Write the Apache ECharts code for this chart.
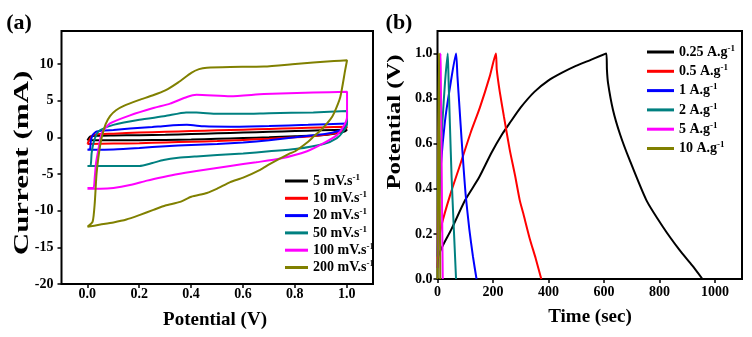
<!DOCTYPE html>
<html><head><meta charset="utf-8">
<script src="https://cdn.jsdelivr.net/npm/echarts@6/dist/echarts.min.js"></script>
<style>html,body{margin:0;padding:0;background:#fff}#c{width:752px;height:337px}</style>
</head><body><div id="c"></div>
<script>
// ---- Panel (a): CV curves, [potential V, current mA]
const cvNames = ['5 mV.s^-1', '10 mV.s^-1', '20 mV.s^-1', '50 mV.s^-1', '100 mV.s^-1', '200 mV.s^-1'];
const cvColors = ['#000000', '#ff0000', '#0000ff', '#008080', '#ff00ff', '#808000'];
const cv5 = [[0,-0.4],[0.01,0.1],[0.03,0.2],[0.1,0.25],[0.2,0.3],[0.3,0.35],[0.4,0.45],[0.5,0.55],[0.6,0.65],[0.7,0.75],[0.8,0.85],[0.9,0.95],[1.0,1.05],
  [0.99,0.8],[0.95,0.5],[0.9,0.3],[0.8,0.15],[0.7,0.0],[0.6,-0.1],[0.5,-0.2],[0.4,-0.3],[0.3,-0.35],[0.2,-0.4],[0.1,-0.4],[0,-0.4]];
const cv10 = [[0,-0.9],[0.01,-0.2],[0.02,0.3],[0.05,0.45],[0.1,0.5],[0.2,0.65],[0.3,0.75],[0.4,0.85],[0.5,0.95],[0.6,1.05],[0.7,1.15],[0.8,1.25],[0.9,1.35],[1.0,1.45],
  [0.995,1.2],[0.98,0.9],[0.95,0.55],[0.9,0.3],[0.8,0.0],[0.7,-0.2],[0.6,-0.35],[0.5,-0.5],[0.4,-0.6],[0.3,-0.7],[0.2,-0.8],[0.1,-0.85],[0,-0.9]];
const cv20 = [[0,-1.7],[0.01,-1.6],[0.013,-0.5],[0.02,0.3],[0.036,0.8],[0.1,1.0],[0.164,1.2],[0.25,1.4],[0.3,1.55],[0.383,1.7],[0.45,1.5],[0.55,1.45],[0.7,1.55],[0.85,1.7],[1.0,1.9],
  [0.995,1.5],[0.987,1.2],[0.96,0.8],[0.92,0.5],[0.871,0.3],[0.8,0.0],[0.7,-0.4],[0.6,-0.7],[0.5,-0.9],[0.4,-1.05],[0.3,-1.2],[0.2,-1.45],[0.1,-1.65],[0,-1.7]];
const cv50 = [[0,-3.9],[0.012,-3.85],[0.016,-2.2],[0.023,-0.8],[0.035,0.4],[0.049,1.0],[0.1,1.7],[0.2,2.4],[0.3,2.9],[0.38,3.4],[0.42,3.4],[0.5,3.2],[0.6,3.2],[0.7,3.3],[0.87,3.4],[1.0,3.6],
  [1.0,1.9],[0.987,0.9],[0.961,-0.1],[0.91,-0.9],[0.8,-1.6],[0.7,-1.9],[0.6,-2.2],[0.5,-2.4],[0.42,-2.6],[0.35,-2.8],[0.293,-3.1],[0.25,-3.5],[0.2,-3.9],[0.1,-3.9],[0,-3.9]];
const cv100 = [[0,-6.9],[0.023,-6.9],[0.028,-5.5],[0.033,-3.5],[0.042,-1.7],[0.055,0.6],[0.087,1.9],[0.164,3.0],[0.254,4.0],[0.318,4.6],[0.383,5.5],[0.42,5.8],[0.55,5.6],[0.68,5.9],[0.87,6.1],[1.0,6.2],
  [1.0,2.8],[0.987,1.5],[0.961,0.3],[0.91,-0.8],[0.846,-1.9],[0.743,-2.9],[0.65,-3.4],[0.55,-3.9],[0.42,-4.6],[0.35,-5.0],[0.293,-5.4],[0.229,-5.9],[0.164,-6.5],[0.1,-6.9],[0.05,-7.0],[0,-7.0]];
const cv200 = [[0,-12.2],[0.02,-11.5],[0.028,-9],[0.035,-5],[0.045,-2],[0.055,0],[0.07,1.8],[0.087,2.9],[0.11,3.7],[0.14,4.3],[0.2,5.1],[0.25,5.7],[0.3,6.4],[0.35,7.5],[0.4,8.8],[0.43,9.3],[0.46,9.5],[0.55,9.6],[0.68,9.65],[0.8,10.0],[0.87,10.2],[0.95,10.4],[1.0,10.5],
  [0.993,9.2],[0.974,5.5],[0.95,3.3],[0.935,2.4],[0.9,1.0],[0.871,0.1],[0.85,-0.6],[0.8,-1.9],[0.78,-2.2],[0.7,-3.7],[0.667,-4.4],[0.6,-5.5],[0.55,-6.1],[0.5,-7.0],[0.46,-7.6],[0.4,-8.1],[0.357,-8.8],[0.3,-9.3],[0.254,-9.9],[0.2,-10.6],[0.15,-11.2],[0.1,-11.6],[0.05,-11.9],[0,-12.2]];
const cvData = [cv5, cv10, cv20, cv50, cv100, cv200];
const cvXTicks = [0, 1, 0.2];     // min, max, step for tick labels
const cvYTicks = [-20, 10, 5];

// ---- Panel (b): GCD curves, [time s, potential V]
const gcdNames = ['0.25 A.g^-1', '0.5 A.g^-1', '1 A.g^-1', '2 A.g^-1', '5 A.g^-1', '10 A.g^-1'];
const gcdColors = ['#000000', '#ff0000', '#0000ff', '#008080', '#ff00ff', '#808000'];
const g025 = [[0,0.05],[3,0.1],[20,0.15],[50,0.22],[100,0.35],[150,0.45],[195,0.56],[235,0.645],[260,0.69],[300,0.76],[350,0.83],[400,0.88],[450,0.915],[500,0.945],[550,0.97],[610,1.0],
  [612,0.93],[616,0.87],[634,0.75],[660,0.64],[694,0.528],[754,0.351],[814,0.232],[874,0.129],[920,0.06],[957,0]];
const g05 = [[0,0.09],[3,0.15],[15,0.24],[45,0.37],[80,0.5],[120,0.65],[153,0.76],[189,0.9],[211,1.0],
  [214,0.93],[225,0.83],[240,0.72],[261,0.573],[280,0.46],[297,0.35],[310,0.29],[333,0.18],[355,0.09],[375,0]];
const g1 = [[0,0.1],[4,0.3],[12,0.5],[27,0.7],[45,0.85],[67,1.0],[72,0.9],[80,0.75],[87,0.62],[95,0.48],[102,0.37],[115,0.22],[128,0.1],[141,0]];
const g2 = [[0,0.1],[4,0.3],[10,0.5],[18,0.7],[27,0.87],[37,1.0],[40,0.88],[45,0.68],[51,0.45],[58,0.25],[67,0]];
const g5 = [[0,0.05],[2,0.4],[6,0.8],[11,1.0],[12,0.9],[15,0.5],[19,0]];
const g10 = [[0,0],[2,0.5],[5,1.0],[6,0.85],[8,0.4],[10,0]];
const gcdData = [g025, g05, g1, g2, g5, g10];
const gcdXTicks = [0, 1000, 200];
const gcdYTicks = [0, 1, 0.2];

const FF = '"Liberation Serif", "Times New Roman", serif';
const lab = (m, fmt) => ({show: true, margin: m, fontFamily: FF, fontWeight: 'bold', fontSize: 14, color: '#000', formatter: fmt});
const tick = {show: true, inside: false, length: 4, lineStyle: {color: '#000', width: 1.5}};
const hidden = (gi, min, max) => ({gridIndex: gi, type: 'value', min, max, show: false});
const richFmt = n => { const p = n.split('^'); return '{b|' + p[0] + '}{s|' + p[1] + '}'; };
const rich = {
  b: {fontFamily: FF, fontWeight: 'bold', fontSize: 14, lineHeight: 16, color: '#000'},
  s: {fontFamily: FF, fontWeight: 'bold', fontSize: 9, lineHeight: 10, verticalAlign: 'top', color: '#000'}
};

const series = [];
cvData.forEach((d, i) => series.push({name: cvNames[i], type: 'line', xAxisIndex: 0, yAxisIndex: 0, data: d, showSymbol: false, smooth: 0.2, color: cvColors[i], lineStyle: {width: 2}}));
gcdData.forEach((d, i) => series.push({name: gcdNames[i], type: 'line', xAxisIndex: 3, yAxisIndex: 3, data: d, showSymbol: false, smooth: 0.2, color: gcdColors[i], lineStyle: {width: 2}}));

const option = {
  animation: false,
  grid: [
    {left: 61.5, top: 31, width: 311.5, height: 253, show: true, borderColor: '#000', borderWidth: 2},
    {left: 87.3, top: 31, width: 259.4, height: 253},
    {left: 61.5, top: 64, width: 311.5, height: 220},
    {left: 437.5, top: 31, width: 304.5, height: 248, show: true, borderColor: '#000', borderWidth: 2},
    {left: 437.5, top: 31, width: 277.5, height: 248},
    {left: 437.5, top: 53.7, width: 304.5, height: 225.3}
  ],
  xAxis: [
    hidden(0, -0.1, 1.1),
    {gridIndex: 1, type: 'value', min: cvXTicks[0], max: cvXTicks[1], interval: cvXTicks[2], axisLine: {show: false}, axisTick: tick, splitLine: {show: false}, axisLabel: lab(3, v => v.toFixed(1))},
    hidden(2, 0, 1),
    hidden(3, 0, 1100),
    {gridIndex: 4, type: 'value', min: gcdXTicks[0], max: gcdXTicks[1], interval: gcdXTicks[2], axisLine: {show: false}, axisTick: tick, splitLine: {show: false}, axisLabel: lab(6, v => String(v))},
    hidden(5, 0, 1)
  ],
  yAxis: [
    hidden(0, -20, 14.5),
    hidden(1, 0, 1),
    {gridIndex: 2, type: 'value', min: cvYTicks[0], max: cvYTicks[1], interval: cvYTicks[2], axisLine: {show: false}, axisTick: tick, splitLine: {show: false}, axisLabel: lab(8, v => String(v))},
    hidden(3, 0, 1.1),
    hidden(4, 0, 1),
    {gridIndex: 5, type: 'value', min: gcdYTicks[0], max: gcdYTicks[1], interval: gcdYTicks[2], axisLine: {show: false}, axisTick: tick, splitLine: {show: false}, axisLabel: lab(5, v => v.toFixed(1))}
  ],
  legend: [
    {data: cvNames, orient: 'vertical', left: 280, top: 168, itemWidth: 23, itemHeight: 3, itemGap: 2.3, icon: 'rect', formatter: richFmt, textStyle: {rich}},
    {data: gcdNames, orient: 'vertical', left: 642, top: 39, itemWidth: 27, itemHeight: 3, itemGap: 4.3, icon: 'rect', formatter: richFmt, textStyle: {rich}}
  ],
  graphic: [
    {type: 'text', x: 19, y: 23, style: {text: '(a)', fontFamily: FF, fontWeight: 'bold', fontSize: 22, fill: '#000', align: 'center', verticalAlign: 'middle'}},
    {type: 'text', x: 399, y: 23, style: {text: '(b)', fontFamily: FF, fontWeight: 'bold', fontSize: 22, fill: '#000', align: 'center', verticalAlign: 'middle'}},
    {type: 'text', x: 23, y: 163, rotation: Math.PI / 2, scaleX: 1.55, style: {text: 'Current (mA)', fontFamily: FF, fontWeight: 'bold', fontSize: 20, fill: '#000', align: 'center', verticalAlign: 'middle'}},
    {type: 'text', x: 215, y: 320, style: {text: 'Potential (V)', fontFamily: FF, fontWeight: 'bold', fontSize: 19, fill: '#000', align: 'center', verticalAlign: 'middle'}},
    {type: 'text', x: 395, y: 122, rotation: Math.PI / 2, scaleX: 1.3, style: {text: 'Potential (V)', fontFamily: FF, fontWeight: 'bold', fontSize: 19, fill: '#000', align: 'center', verticalAlign: 'middle'}},
    {type: 'text', x: 590, y: 317, style: {text: 'Time (sec)', fontFamily: FF, fontWeight: 'bold', fontSize: 19, fill: '#000', align: 'center', verticalAlign: 'middle'}}
  ],
  series
};
echarts.init(document.getElementById('c')).setOption(option);
</script></body></html>
